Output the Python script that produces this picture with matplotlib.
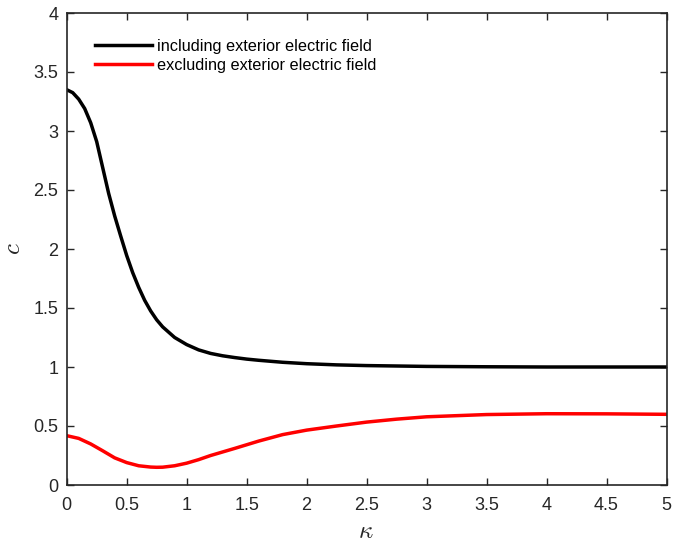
import numpy as np
import matplotlib; matplotlib.use("Agg"); import matplotlib.pyplot as plt

plt.rcParams["font.family"] = ["Liberation Sans", "DejaVu Sans"]
plt.rcParams["mathtext.fontset"] = "cm"

# ---- data ----
kappa_in = [0, 0.05, 0.1, 0.15, 0.2, 0.25, 0.3, 0.35, 0.4, 0.45, 0.5, 0.55, 0.6, 0.65,
            0.7, 0.75, 0.8, 0.9, 1.0, 1.1, 1.2, 1.3, 1.4, 1.5, 1.6, 1.8, 2.0, 2.25,
            2.5, 3.0, 3.5, 4.0, 4.5, 5.0]
c_in     = [3.35, 3.325, 3.27, 3.19, 3.07, 2.91, 2.69, 2.47, 2.28, 2.11, 1.945, 1.80, 1.675, 1.565,
            1.475, 1.40, 1.34, 1.25, 1.19, 1.145, 1.115, 1.095, 1.08, 1.067, 1.057, 1.04, 1.028, 1.018,
            1.012, 1.005, 1.002, 1.0, 1.0, 1.0]
kappa_ex = [0, 0.1, 0.2, 0.3, 0.4, 0.5, 0.6, 0.7, 0.75, 0.8, 0.9, 1.0, 1.1, 1.2, 1.4,
            1.6, 1.8, 2.0, 2.25, 2.5, 2.75, 3.0, 3.5, 4.0, 4.5, 5.0]
c_ex     = [0.418, 0.395, 0.348, 0.29, 0.23, 0.19, 0.163, 0.152, 0.150, 0.151, 0.163, 0.185, 0.215, 0.25, 0.31,
            0.372, 0.427, 0.465, 0.50, 0.533, 0.558, 0.578, 0.597, 0.604, 0.603, 0.599]
labels = ["including exterior electric field", "excluding exterior electric field"]
xticklabels = ["0", "0.5", "1", "1.5", "2", "2.5", "3", "3.5", "4", "4.5", "5"]
yticklabels = ["0", "0.5", "1", "1.5", "2", "2.5", "3", "3.5", "4"]

fig = plt.figure(figsize=(6.85, 5.43), dpi=100)
ax = fig.add_axes([66.7/685, 1-485/543, (666.5-66.7)/685, (485-13)/543])
ax.plot(kappa_in, c_in, color="k", lw=2.5, label=labels[0], solid_joinstyle="round")
ax.plot(kappa_ex, c_ex, color="#ff0000", lw=2.5, label=labels[1], solid_joinstyle="round")
ax.set_xlim(0, 5); ax.set_ylim(0, 4)
ax.set_xticks(np.arange(0, 5.01, 0.5)); ax.set_yticks(np.arange(0, 4.01, 0.5))
ax.set_xticklabels(xticklabels); ax.set_yticklabels(yticklabels)
ax.tick_params(direction="in", top=True, right=True, length=5, width=1.0,
               labelsize=13, colors="#262626")
ax.tick_params(axis="x", pad=9); ax.tick_params(axis="y", pad=6)
for s in ax.spines.values():
    s.set_color("#262626"); s.set_linewidth(1.2)
ax.set_xlabel(r"$\kappa$", fontsize=18, color="#262626")
ax.set_ylabel(r"$c$", fontsize=18, color="#262626")
ax.xaxis.set_label_coords(0.499, -0.072)
ax.yaxis.set_label_coords(-0.07, 0.5)
ax.legend(loc="upper left", bbox_to_anchor=(0.047, 0.945), frameon=False, fontsize=11.7,
          handlelength=3.5, handletextpad=0.3, labelspacing=0.24,
          borderpad=0, borderaxespad=0)
fig.savefig("out.png", dpi=100)
